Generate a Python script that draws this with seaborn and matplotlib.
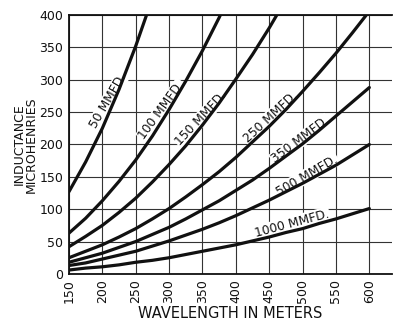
import pandas as pd
import seaborn as sns
import matplotlib.pyplot as plt

# wavelength (meters) and inductance (microhenries)
wavelength = [150, 175, 200, 225, 250, 275, 300, 325, 350, 375,
              400, 425, 450, 475, 500, 525, 550, 575, 600]

mmfd_50 = [127, 173, 225, 285, 352, 426]
mmfd_100 = [63, 86, 113, 143, 176, 213, 254, 298, 345, 396, 451]
mmfd_150 = [42, 58, 75, 95, 117, 142, 169, 198, 230, 264, 301, 339, 380, 424]
mmfd_250 = [25, 35, 45, 57, 70, 85, 101, 119, 138, 158, 180, 204, 228, 254,
            282, 311, 341, 373, 406]
mmfd_350 = [18, 25, 32, 41, 50, 61, 72, 85, 99, 113, 129, 145, 163, 182,
            201, 222, 244, 266, 288]
mmfd_500 = [13, 17, 23, 29, 35, 43, 51, 60, 69, 79, 90, 102, 114, 127,
            140, 154, 168, 184, 200]
mmfd_1000 = [6, 9, 11, 14, 18, 21, 25, 30, 35, 40, 45, 51, 57, 64,
             70, 78, 85, 93, 101]

curves = {'50 MMFD.': mmfd_50, '100 MMFD.': mmfd_100, '150 MMFD.': mmfd_150,
          '250 MMFD.': mmfd_250, '350 MMFD.': mmfd_350,
          '500 MMFD.': mmfd_500, '1000 MMFD.': mmfd_1000}

# label placement: (wavelength, inductance, angle)
label_pos = {'50 MMFD.': (209, 268, 60), '100 MMFD.': (289, 253, 54),
             '150 MMFD.': (348, 240, 47), '250 MMFD.': (452, 242, 43),
             '350 MMFD.': (497, 207, 37), '500 MMFD.': (507, 152, 30),
             '1000 MMFD.': (484, 78, 15)}

rows = []
for name, vals in curves.items():
    for w, l in zip(wavelength, vals):
        rows.append({'wavelength': w, 'inductance': l, 'cap': name})
df = pd.DataFrame(rows)

sns.set_style('white')
plt.rcParams['font.family'] = ['DejaVu Sans']

fig = plt.figure(figsize=(3.94, 3.2), dpi=100)
ax = fig.add_axes([0.175, 0.144, 0.82, 0.809])

sns.lineplot(data=df, x='wavelength', y='inductance', hue='cap',
             palette=['#111111'] * 7, linewidth=2.3, legend=False, ax=ax)

for name, (x, y, ang) in label_pos.items():
    ax.text(x, y, name, rotation=ang, rotation_mode='anchor',
            ha='center', va='center', fontsize=8.8, color='#111111', zorder=1,
            bbox=dict(facecolor='white', edgecolor='none', pad=0.6))

ax.set_xlim(150, 634)
ax.set_ylim(0, 400)
ax.set_xticks(range(150, 601, 50))
ax.set_yticks(range(0, 401, 50))
ax.set_xticklabels([str(v) for v in range(150, 601, 50)], rotation=90)
ax.grid(True, color='#333333', linewidth=0.8)
ax.tick_params(axis='both', labelsize=9, length=0, pad=4, colors='#111111')
for side in ['left', 'bottom', 'top']:
    ax.spines[side].set_color('#111111')
    ax.spines[side].set_linewidth(1.3)
ax.spines['right'].set_visible(False)

ax.set_xlabel('WAVELENGTH IN METERS', fontsize=10.5, color='#111111', labelpad=2)
ax.set_ylabel('INDUCTANCE\nMICROHENRIES', fontsize=9, color='#111111',
              labelpad=1, linespacing=0.95)

fig.savefig('out.png', dpi=100)
